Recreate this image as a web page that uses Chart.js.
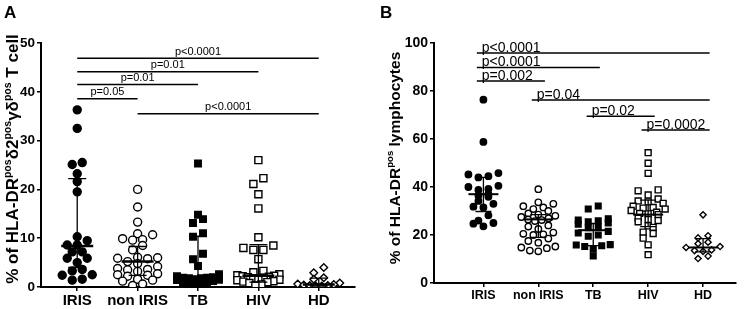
<!DOCTYPE html>
<html>
<head>
<meta charset="utf-8">
<script src="https://cdn.jsdelivr.net/npm/chart.js@4/dist/chart.umd.min.js"></script>
<style>
  body { margin: 0; background: #fff; }
  .panel { position: absolute; top: 0; width: 376px; height: 309px; }
</style>
</head>
<body>
<div class="panel" style="left:0"><canvas id="chartA" width="376" height="309"></canvas></div>
<div class="panel" style="left:376px"><canvas id="chartB" width="376" height="309"></canvas></div>
<script>
// groups on the x axis
const groups = ['IRIS', 'non IRIS', 'TB', 'HIV', 'HD'];

// panel A: % HLA-DR+ d2+ gd T cells
const yTicksA = [0, 10, 20, 30, 40, 50];
const irisA = [36.3, 32.5, 25.5, 25.1, 23.2, 21.6, 19.5, 10.3, 9.5, 8.6, 8.6, 7.2, 7.2, 5.9, 5.9, 5.0, 3.6, 3.3, 2.5, 2.4, 1.6, 1.4];
const nonIrisA = [20.0, 16.4, 13.3, 10.9, 10.7, 9.9, 9.7, 9.6, 8.5, 7.6, 6.1, 6.0, 5.9, 5.8, 5.2, 4.8, 4.2, 3.8, 3.6, 3.5, 3.2, 2.7, 2.5, 2.4, 2.2, 1.6, 1.4, 1.2, 0.6, 0.3];
const tbA = [25.3, 14.8, 13.9, 13.1, 11.0, 10.3, 6.8, 5.7, 4.3, 2.6, 2.2, 2.0, 1.9, 1.9, 1.8, 1.8, 1.6, 1.5, 1.4, 1.2, 1.0, 0.8, 0.6, 0.4, 0.3];
const hivA = [26.0, 22.3, 21.1, 19.0, 16.1, 10.2, 8.5, 8.0, 7.6, 7.6, 5.7, 3.3, 3.0, 2.6, 2.4, 2.3, 2.2, 2.1, 2.0, 1.9, 1.8, 1.6, 1.5, 1.4, 1.2, 1.1, 1.0, 0.8, 0.5, 0.3];
const hdA = [4.0, 2.9, 1.9, 1.6, 0.8, 0.6, 0.5, 0.4, 0.3, 0.3, 0.2, 0.2];
const medianA = [8.4, 5.2, 1.9, 2.3, 0.5];
const q1A = [4.0, 2.4, 0.7, 1.0, 0.2];
const q3A = [22.2, 8.3, 10.4, 8.7, 1.8];
const pLabelsA = ['p<0.0001', 'p=0.01', 'p=0.01', 'p=0.05', 'p<0.0001'];
const pFromA = [1, 1, 1, 1, 2];
const pToA = [5, 4, 3, 2, 5];
const pLevelA = [46.9, 44.1, 41.5, 38.6, 35.5];

// panel B: % HLA-DR+ lymphocytes
const yTicksB = [0, 20, 40, 60, 80, 100];
const irisB = [76.4, 58.8, 45.8, 45.2, 44.5, 44.0, 40.5, 40.0, 39.2, 38.8, 37.0, 36.5, 35.9, 34.2, 33.0, 31.8, 31.5, 28.2, 26.0, 25.0, 24.7, 23.6];
const nonIrisB = [39.1, 33.6, 33.0, 32.0, 31.5, 30.8, 30.0, 29.0, 28.5, 28.0, 27.5, 27.0, 26.5, 26.2, 25.8, 24.0, 23.5, 22.5, 21.0, 20.5, 20.3, 20.0, 18.5, 17.5, 16.8, 15.2, 14.8, 14.5, 13.5, 13.2];
const tbB = [32.1, 30.8, 26.8, 26.2, 25.9, 25.5, 25.0, 24.5, 23.5, 23.0, 21.5, 20.8, 20.0, 19.5, 16.0, 15.8, 15.5, 15.2, 14.2, 11.3];
const hivB = [54.3, 49.9, 45.7, 38.8, 38.4, 36.7, 35.0, 34.2, 33.8, 33.2, 32.0, 31.5, 31.2, 30.8, 30.2, 29.5, 29.0, 28.8, 28.5, 27.0, 26.5, 26.0, 25.5, 23.8, 23.2, 21.2, 20.6, 18.7, 15.9, 11.8];
const hdB = [28.4, 19.7, 18.8, 17.0, 16.4, 15.2, 14.8, 13.8, 13.5, 13.2, 11.2, 10.2];
const medianB = [37.0, 26.5, 22.0, 28.5, 14.8];
const q1B = [29.8, 19.0, 15.6, 23.5, 13.0];
const q3B = [44.0, 28.5, 24.8, 34.5, 18.5];
const pLabelsB = ['p<0.0001', 'p<0.0001', 'p=0.002', 'p=0.04', 'p=0.02', 'p=0.0002'];
const pFromB = [1, 1, 1, 2, 3, 4];
const pToB = [5, 3, 2, 5, 4, 5];
const pLevelB = [95.8, 89.8, 84.2, 76.2, 69.5, 63.7];

const titleA = [['% of HLA-DR', 0], ['pos', 1], ['δ2', 0], ['pos', 1], ['γδ', 0], ['pos', 1], [' T cell', 0]];
const titleB = [['% of HLA-DR', 0], ['pos', 1], [' lymphocytes', 0]];

const FONT = "'Liberation Sans', Arial, sans-serif";

// marker look per group: filled circle, open circle, filled square, open square, open diamond
function markers(r) {
    return [
        { pointStyle: 'circle', pointRadius: r.circle, backgroundColor: '#000', borderColor: '#000' },
        { pointStyle: 'circle', pointRadius: r.circle, backgroundColor: '#fff', borderColor: '#000' },
        { pointStyle: 'rect', pointRadius: r.fsq, backgroundColor: '#000', borderColor: '#000' },
        { pointStyle: 'rect', pointRadius: r.osq, backgroundColor: '#fff', borderColor: '#000' },
        { pointStyle: 'rectRot', pointRadius: r.dia, backgroundColor: '#fff', borderColor: '#000' }
    ];
}

// error bars (median + IQR), p-value brackets, axis title, panel letter
const overlay = {
    id: 'overlay',
    afterDatasetsDraw(chart, args, o) {
        const ctx = chart.ctx, xs = chart.scales.x, ys = chart.scales.y;
        ctx.save();
        ctx.strokeStyle = '#000';
        o.median.forEach((m, i) => {
            const x = xs.getPixelForValue(i + 1);
            const yt = ys.getPixelForValue(o.q3[i]), yb = ys.getPixelForValue(o.q1[i]);
            ctx.lineWidth = o.barWidth;
            ctx.beginPath();
            ctx.moveTo(x, yt); ctx.lineTo(x, yb);
            ctx.moveTo(x - o.cap, yt); ctx.lineTo(x + o.cap, yt);
            ctx.moveTo(x - o.cap, yb); ctx.lineTo(x + o.cap, yb);
            ctx.stroke();
            const ym = ys.getPixelForValue(m);
            ctx.lineWidth = o.medWidth;
            ctx.beginPath();
            ctx.moveTo(x - o.med, ym); ctx.lineTo(x + o.med, ym);
            ctx.stroke();
        });
        ctx.fillStyle = '#000';
        ctx.font = o.pFont + 'px ' + FONT;
        o.pLabels.forEach((t, i) => {
            const x1 = xs.getPixelForValue(o.pFrom[i] - o.ext), x2 = xs.getPixelForValue(o.pTo[i] + o.ext);
            const y = ys.getPixelForValue(o.pLevel[i]);
            ctx.lineWidth = 1.5;
            ctx.beginPath();
            ctx.moveTo(x1, y); ctx.lineTo(x2, y);
            ctx.stroke();
            ctx.textBaseline = 'alphabetic';
            if (o.pAlign === 'center') {
                ctx.textAlign = 'center';
                ctx.fillText(t, (x1 + x2) / 2, y + o.pDy);
            } else {
                ctx.textAlign = 'left';
                ctx.fillText(t, x1 + o.pDx, y + o.pDy);
            }
        });
        // rotated axis title with superscripts
        ctx.translate(o.titleX, (chart.chartArea.top + chart.chartArea.bottom) / 2 + o.titleDy);
        ctx.rotate(-Math.PI / 2);
        const s = o.titleSize, ss = s * 0.62;
        let total = 0;
        o.title.forEach(([t, sup]) => {
            ctx.font = 'bold ' + (sup ? ss : s) + 'px ' + FONT;
            total += ctx.measureText(t).width;
        });
        let x = -total / 2;
        ctx.textAlign = 'left';
        o.title.forEach(([t, sup]) => {
            ctx.font = 'bold ' + (sup ? ss : s) + 'px ' + FONT;
            ctx.fillText(t, x, s * 0.36 - (sup ? s * 0.42 : 0));
            x += ctx.measureText(t).width;
        });
        ctx.restore();
        ctx.save();
        ctx.fillStyle = '#000';
        ctx.font = 'bold 17px ' + FONT;
        ctx.textAlign = 'left';
        ctx.textBaseline = 'alphabetic';
        ctx.fillText(o.letter, 4, 18);
        ctx.restore();
    }
};

function makeChart(id, p) {
    const looks = markers(p.radius);
    const datasets = p.series.map((vals, i) => Object.assign({
        values: vals,
        data: vals.map(v => ({ x: i + 1, y: v })),
        borderWidth: 1.4,
        showLine: false
    }, looks[i]));
    const chart = new Chart(document.getElementById(id).getContext('2d'), {
        type: 'scatter',
        data: { datasets: datasets },
        options: {
            responsive: false,
            animation: false,
            layout: { padding: p.padding },
            plugins: {
                legend: { display: false },
                tooltip: { enabled: false },
                overlay: p.overlay
            },
            scales: {
                x: {
                    type: 'linear',
                    min: p.xMin,
                    max: 5.6,
                    afterBuildTicks: s => { s.ticks = groups.map((g, i) => ({ value: i + 1 })); },
                    afterFit: s => { s.height = p.xHeight; },
                    ticks: {
                        autoSkip: false,
                        maxRotation: 0,
                        padding: 1,
                        color: '#000',
                        font: { family: FONT, weight: 'bold', size: p.xFont },
                        callback: (v) => groups[v - 1]
                    },
                    grid: { drawOnChartArea: false, tickLength: 4, color: '#000', lineWidth: 1.5 },
                    border: { color: '#000', width: 2 }
                },
                y: {
                    min: 0,
                    max: p.yTicks[p.yTicks.length - 1],
                    afterBuildTicks: s => { s.ticks = p.yTicks.map(v => ({ value: v })); },
                    afterFit: s => { s.width = p.yWidth; },
                    ticks: {
                        padding: 2,
                        color: '#000',
                        font: { family: FONT, weight: 'bold', size: p.yFont }
                    },
                    grid: { drawOnChartArea: false, tickLength: 4, color: '#000', lineWidth: 1.5 },
                    border: { color: '#000', width: 2 }
                }
            }
        },
        plugins: [overlay]
    });
    scatterRows(chart, p.gap, p.rowH, p.maxHalf);
    return chart;
}

// Prism-like column scatter: points of similar value share a row and are spread
// symmetrically around the group centre, squeezed when the row gets too wide
function scatterRows(chart, gap, rowH, maxHalf) {
    const xs = chart.scales.x, ys = chart.scales.y;
    chart.data.datasets.forEach((ds, gi) => {
        const vals = ds.values;
        const cx = xs.getPixelForValue(gi + 1);
        const order = vals.map((v, i) => i).sort((a, b) => vals[a] - vals[b]);
        const rows = [];
        order.forEach(i => {
            const py = ys.getPixelForValue(vals[i]);
            const row = rows[rows.length - 1];
            if (row && row.py0 - py < rowH) row.items.push(i);
            else rows.push({ py0: py, items: [i] });
        });
        const out = new Array(vals.length);
        rows.forEach(row => {
            const n = row.items.length;
            const step = n > 1 ? Math.min(gap, 2 * maxHalf / (n - 1)) : 0;
            const slots = [];
            for (let j = 0; j < n; j++) slots.push((j - (n - 1) / 2) * step);
            slots.sort((a, b) => Math.abs(a) - Math.abs(b) || a - b);
            row.items.forEach((i, j) => {
                out[i] = { x: xs.getValueForPixel(cx + slots[j]), y: vals[i] };
            });
        });
        ds.data = out;
    });
    chart.update('none');
}

makeChart('chartA', {
    series: [irisA, nonIrisA, tbA, hivA, hdA],
    yTicks: yTicksA,
    xMin: 0.4,
    padding: { left: 0, right: 21, top: 43, bottom: 0 },
    yWidth: 41,
    xHeight: 22,
    xFont: 15,
    yFont: 13.5,
    radius: { circle: 4, fsq: 4.6, osq: 5, dia: 3.8 },
    gap: 10,
    rowH: 6,
    maxHalf: 21,
    overlay: {
        median: medianA, q1: q1A, q3: q3A,
        cap: 9, med: 16, barWidth: 1.3, medWidth: 2.5,
        pLabels: pLabelsA, pFrom: pFromA, pTo: pToA, pLevel: pLevelA,
        ext: 0, pAlign: 'center', pDx: 0, pDy: -3.5, pFont: 11,
        title: titleA, titleX: 12, titleDy: -6, titleSize: 17, letter: 'A'
    }
});

makeChart('chartB', {
    series: [irisB, nonIrisB, tbB, hivB, hdB],
    yTicks: yTicksB,
    xMin: 0.1,
    padding: { left: 0, right: 16, top: 43, bottom: 0 },
    yWidth: 58,
    xHeight: 26,
    xFont: 12.5,
    yFont: 14,
    radius: { circle: 3.2, fsq: 4, osq: 4.2, dia: 3.1 },
    gap: 10,
    rowH: 5.5,
    maxHalf: 17,
    overlay: {
        median: medianB, q1: q1B, q3: q3B,
        cap: 8, med: 15, barWidth: 1.3, medWidth: 2,
        pLabels: pLabelsB, pFrom: pFromB, pTo: pToB, pLevel: pLevelB,
        ext: 0.12, pAlign: 'left', pDx: 5, pDy: -1, pFont: 14,
        title: titleB, titleX: 18, titleDy: -5, titleSize: 15.5, letter: 'B'
    }
});
</script>
</body>
</html>
